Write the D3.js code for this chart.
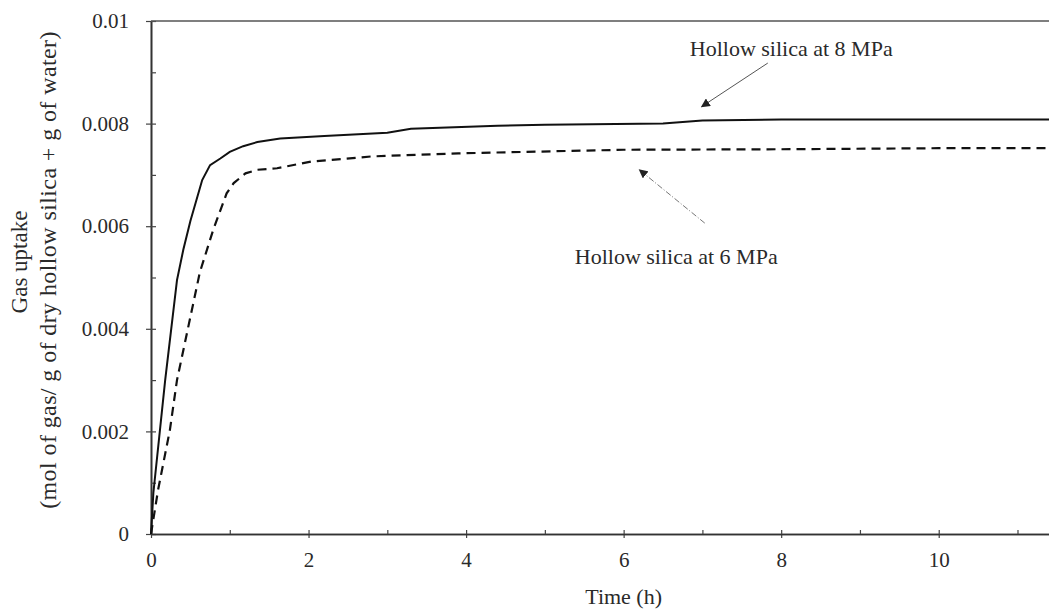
<!DOCTYPE html>
<html>
<head>
<meta charset="utf-8">
<script src="https://cdn.jsdelivr.net/npm/d3@7"></script>
<style>
  body { margin: 0; background: #fff; }
  svg text { font-family: "Liberation Serif", "DejaVu Serif", serif; fill: #2a2a2a; }
</style>
</head>
<body>
<svg id="chart" width="1049" height="610"></svg>
<script>
// Hollow silica at 8 MPa (solid line)
var time8 = [0, 0.03, 0.18, 0.33, 0.41, 0.5, 0.65, 0.75, 0.88, 1.0, 1.17, 1.35, 1.64, 2.2, 3.0, 3.3, 4.4, 5.0, 6.5, 7.0, 8.0, 10.0, 11.4];
var uptake8 = [0, 0.0008, 0.0030, 0.00495, 0.00554, 0.0061, 0.0069, 0.00719, 0.00732, 0.00745, 0.00756, 0.00764, 0.00771, 0.00776, 0.00782, 0.0079, 0.00796, 0.00798, 0.0080, 0.00806, 0.00808, 0.00808, 0.00808];

// Hollow silica at 6 MPa (dashed line)
var time6 = [0, 0.09, 0.24, 0.33, 0.62, 0.79, 0.96, 1.05, 1.2, 1.35, 1.6, 2.03, 2.28, 2.8, 3.9, 6.0, 8.0, 10.0, 11.4];
var uptake6 = [0, 0.00086, 0.00203, 0.0030, 0.0051, 0.00593, 0.00664, 0.00684, 0.00703, 0.0071, 0.00713, 0.00726, 0.00729, 0.00736, 0.00742, 0.00749, 0.0075, 0.00752, 0.00752];

var xTicks = [0, 2, 4, 6, 8, 10];
var xMinor = [1, 3, 5, 7, 9, 11];
var yTicks = [0, 0.002, 0.004, 0.006, 0.008, 0.01];
var yMinor = [0.001, 0.003, 0.005, 0.007, 0.009];

// annotations: [label, text x, text y, arrow from x, from y, arrow tip x, tip y]
var notes = [
  ["Hollow silica at 8 MPa", 6.84, 0.00932, 7.83, 0.00918, 6.99, 0.00833],
  ["Hollow silica at 6 MPa", 5.38, 0.00526, 7.03, 0.00606, 6.20, 0.00710]
];

var svg = d3.select("#chart");
var plotLeft = 151, plotRight = 1049, plotTop = 21, plotBottom = 534;

var x = d3.scaleLinear().domain([0, 11.4]).range([plotLeft, plotRight]);
var y = d3.scaleLinear().domain([0, 0.01]).range([plotBottom, plotTop]);

var defs = svg.append("defs");
defs.append("marker")
  .attr("id", "arrow")
  .attr("viewBox", "0 0 10 10")
  .attr("refX", 9).attr("refY", 5)
  .attr("markerWidth", 9).attr("markerHeight", 9)
  .attr("markerUnits", "userSpaceOnUse")
  .attr("orient", "auto")
  .append("path")
  .attr("d", "M0,0 L10,5 L0,10 z")
  .attr("fill", "#222");

/////////////
// axes
/////////////
var fmt = function(d) { return d === 0 ? "0" : String(+d.toFixed(3)); };

svg.append("g")
  .attr("transform", "translate(" + plotLeft + ",0)")
  .call(d3.axisLeft(y).tickValues(yTicks).tickFormat(fmt).tickSizeInner(5).tickSizeOuter(0).tickPadding(17));
svg.append("g")
  .attr("transform", "translate(" + plotLeft + ",0)")
  .call(d3.axisRight(y).tickValues(yTicks.concat(yMinor)).tickFormat("").tickSizeInner(5).tickSizeOuter(0));

svg.append("g")
  .attr("transform", "translate(0," + plotBottom + ")")
  .call(d3.axisBottom(x).tickValues(xTicks).tickFormat(d3.format("d")).tickSizeInner(4).tickSizeOuter(0).tickPadding(14));
svg.append("g")
  .attr("transform", "translate(0," + plotBottom + ")")
  .call(d3.axisTop(x).tickValues(xTicks.concat(xMinor)).tickFormat("").tickSizeInner(4).tickSizeOuter(0));

svg.selectAll(".domain").attr("stroke", "#333").attr("stroke-width", 1.6);
svg.selectAll(".tick line").attr("stroke", "#444").attr("stroke-width", 1.2);
svg.selectAll(".tick text").style("font-size", "21px").attr("fill", "#2a2a2a");

// top frame line
svg.append("line")
  .attr("x1", x(0)).attr("x2", x(11.4))
  .attr("y1", y(0.01)).attr("y2", y(0.01))
  .attr("stroke", "#555").attr("stroke-width", 1.6);

// axis titles
svg.append("text")
  .attr("x", x(6)).attr("y", 604)
  .attr("text-anchor", "middle")
  .style("font-size", "22px")
  .text("Time (h)");

svg.append("text")
  .attr("transform", "translate(27,262) rotate(-90)")
  .attr("text-anchor", "middle")
  .style("font-size", "23px")
  .text("Gas uptake");
svg.append("text")
  .attr("transform", "translate(56,270) rotate(-90)")
  .attr("text-anchor", "middle")
  .style("font-size", "24px")
  .style("letter-spacing", "0.4px")
  .text("(mol of gas/ g of dry hollow silica + g of water)");

/////////////
// lines
/////////////
var line = d3.line()
  .x(function(d) { return x(d[0]); })
  .y(function(d) { return y(d[1]); });

svg.append("path")
  .datum(d3.zip(time6, uptake6))
  .attr("d", line)
  .attr("fill", "none")
  .attr("stroke", "#111")
  .attr("stroke-width", 2.2)
  .attr("stroke-dasharray", "9,6");

svg.append("path")
  .datum(d3.zip(time8, uptake8))
  .attr("d", line)
  .attr("fill", "none")
  .attr("stroke", "#111")
  .attr("stroke-width", 2);

/////////////
// annotations
/////////////
notes.forEach(function(n, i) {
  svg.append("text")
    .attr("x", x(n[1])).attr("y", y(n[2]))
    .style("font-size", "22px")
    .text(n[0]);
  svg.append("line")
    .attr("x1", x(n[3])).attr("y1", y(n[4]))
    .attr("x2", x(n[5])).attr("y2", y(n[6]))
    .attr("stroke", i === 0 ? "#555" : "#777")
    .attr("stroke-width", 1)
    .attr("stroke-dasharray", i === 0 ? null : "6,2,1,2")
    .attr("marker-end", "url(#arrow)");
});
</script>
</body>
</html>
